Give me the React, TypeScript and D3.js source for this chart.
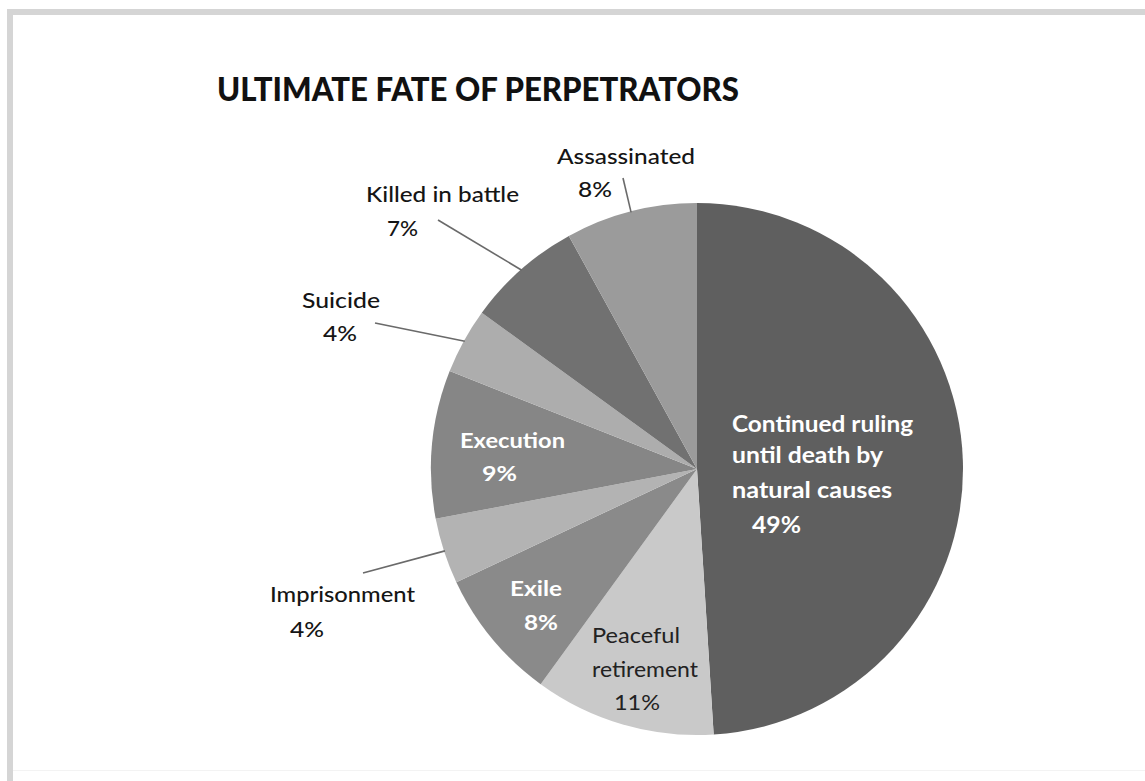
import React from 'react';
import * as d3 from 'd3';

// Slices in clockwise order from 12 o'clock
const categories = [
  'Continued ruling until death by natural causes',
  'Peaceful retirement',
  'Exile',
  'Imprisonment',
  'Execution',
  'Suicide',
  'Killed in battle',
  'Assassinated',
];
const values = [49, 11, 8, 4, 9, 4, 7, 8];
const labelLines = [
  ['Continued ruling', 'until death by', 'natural causes'],
  ['Peaceful', 'retirement'],
  ['Exile'],
  ['Imprisonment'],
  ['Execution'],
  ['Suicide'],
  ['Killed in battle'],
  ['Assassinated'],
];

const sliceColors = ['#5f5f5f', '#c9c9c9', '#8a8a8a', '#b3b3b3', '#868686', '#adadad', '#717171', '#9b9b9b'];

// label placement: left x / baseline y / width of each line, leader line start (outside labels)
const labelLayout = [
  { inside: true, bold: true, lines: [[732, 432, 181], [732, 463, 151], [732, 498, 160], [752, 533, 49]] },
  { inside: true, bold: false, lines: [[592, 643, 88], [592, 677, 106], [614, 710, 46]] },
  { inside: true, bold: true, lines: [[510, 596, 52], [524, 630, 34]] },
  { inside: false, lines: [[270, 602, 145], [290, 637, 34]], leader: [363, 573] },
  { inside: true, bold: true, lines: [[460, 448, 105], [482, 481, 35]] },
  { inside: false, lines: [[302, 308, 78], [323, 341, 34]], leader: [375, 323] },
  { inside: false, lines: [[366, 202, 153], [387, 236, 31]], leader: [438, 220] },
  { inside: false, lines: [[557, 164, 138], [578, 197, 34]], leader: [623, 178] },
];

const W = 1145;
const H = 781;
const cx = 697;
const cy = 469;
const radius = 266;
const font = "Lato, 'Open Sans', 'DejaVu Sans', sans-serif";

export default function App() {
  const pie = d3.pie<number>().sort(null).value(d => d);
  const arcs = pie(values);
  const arc = d3.arc<d3.PieArcDatum<number>>().innerRadius(0).outerRadius(radius);
  const edge = d3.arc<d3.PieArcDatum<number>>().innerRadius(radius - 1).outerRadius(radius - 1);

  return (
    <svg width={W} height={H} viewBox={`0 0 ${W} ${H}`} style={{ position: 'absolute', left: 0, top: 0, background: '#fff' }}>
      <rect x={0} y={0} width={W} height={H} fill="#fff" />
      {/* frame */}
      <rect x={7} y={9} width={W - 7} height={6} fill="#d5d5d5" />
      <rect x={7} y={9} width={6} height={H - 9} fill="#d5d5d5" />
      <rect x={13} y={770} width={W - 13} height={1} fill="#f3f3f3" />

      <text x={217} y={101} fontFamily={font} fontWeight={900} fontSize={32} fill="#111"
        textLength={522} lengthAdjust="spacingAndGlyphs">
        ULTIMATE FATE OF PERPETRATORS
      </text>

      <g transform={`translate(${cx},${cy})`}>
        {arcs.map((a, i) => (
          <path key={categories[i]} d={arc(a) || ''} fill={sliceColors[i]} />
        ))}
      </g>

      {arcs.map((a, i) => {
        const lay = labelLayout[i];
        if (!lay.leader) return null;
        const [ex, ey] = edge.centroid(a);
        return (
          <line key={'l' + i} x1={lay.leader[0]} y1={lay.leader[1]} x2={cx + ex} y2={cy + ey}
            stroke="#6a6a6a" strokeWidth={1.6} />
        );
      })}

      {labelLayout.map((lay, i) => {
        const texts = [...labelLines[i], `${values[i]}%`];
        const fill = lay.inside ? (lay.bold ? '#fff' : '#222') : '#151515';
        const weight = lay.inside ? (lay.bold ? 700 : 400) : 500;
        const size = i === 0 ? 23 : 21;
        return (
          <g key={'t' + i}>
            {texts.map((t, j) => (
              <text key={j} x={lay.lines[j][0]} y={lay.lines[j][1]} fontFamily={font} fontWeight={weight}
                fontSize={size} fill={fill} textLength={lay.lines[j][2]} lengthAdjust="spacingAndGlyphs">
                {t}
              </text>
            ))}
          </g>
        );
      })}
    </svg>
  );
}
